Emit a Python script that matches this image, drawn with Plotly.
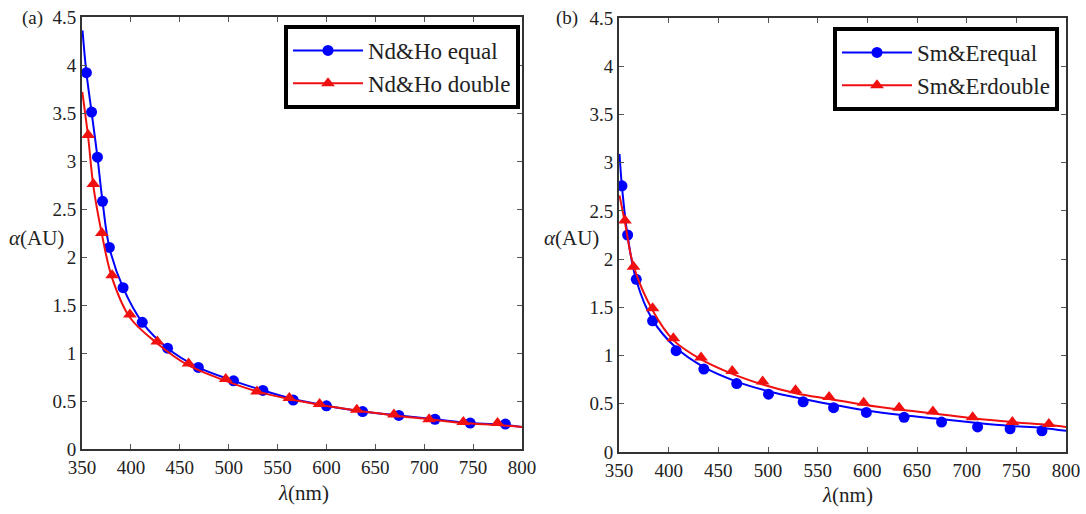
import plotly.graph_objects as go

# ---------------- data ----------------
# Panel (a)
a_eq_mx = [354.5, 359.8, 365.8, 371, 378, 392, 411.6, 437.5, 469, 505, 535, 566, 600, 637, 674, 711, 747, 783]
a_eq_my = [3.92, 3.51, 3.04, 2.58, 2.10, 1.68, 1.32, 1.05, 0.85, 0.71, 0.61, 0.51, 0.45, 0.39, 0.35, 0.31, 0.27, 0.26]
a_eq_lx = [350.5, 354.5, 359.8, 365.8, 371, 378, 392, 411.6, 437.5, 469, 505, 535, 566, 600, 637, 674, 711, 747, 783, 800]
a_eq_ly = [4.36, 3.92, 3.51, 3.04, 2.58, 2.10, 1.68, 1.32, 1.05, 0.85, 0.71, 0.61, 0.52, 0.45, 0.39, 0.35, 0.31, 0.27, 0.25, 0.23]

a_db_mx = [356.3, 361.6, 370.3, 380.8, 399, 427, 459, 497, 529, 562, 593, 631, 669, 705, 740, 775]
a_db_my = [3.27, 2.76, 2.25, 1.81, 1.40, 1.12, 0.89, 0.73, 0.60, 0.53, 0.47, 0.41, 0.36, 0.31, 0.28, 0.27]
a_db_lx = [350.3, 356.3, 361.6, 370.3, 380.8, 399, 427, 459, 497, 529, 562, 593, 631, 669, 705, 740, 775, 800]
a_db_ly = [3.72, 3.25, 2.74, 2.24, 1.78, 1.37, 1.10, 0.87, 0.71, 0.60, 0.52, 0.46, 0.40, 0.35, 0.31, 0.27, 0.25, 0.23]

# Panel (b)
b_eq_mx = [353, 358.7, 367.4, 383.8, 407.5, 435.4, 468.5, 500.5, 535.4, 566, 599, 637, 674.7, 711, 743.7, 775.8]
b_eq_my = [2.76, 2.25, 1.79, 1.36, 1.05, 0.86, 0.71, 0.60, 0.52, 0.46, 0.41, 0.36, 0.31, 0.26, 0.24, 0.22]
b_eq_lx = [350.5, 353, 358.7, 367.4, 383.8, 407.5, 435.4, 468.5, 500.5, 535.4, 566, 599, 637, 674.7, 711, 743.7, 775.8, 800]
b_eq_ly = [3.09, 2.75, 2.24, 1.78, 1.37, 1.08, 0.88, 0.73, 0.63, 0.55, 0.49, 0.43, 0.38, 0.34, 0.30, 0.27, 0.25, 0.22]

b_db_mx = [356, 364.6, 383.8, 404.7, 432.6, 464, 494.6, 527.7, 561.5, 596.3, 632, 666, 706, 746, 782.7]
b_db_my = [2.40, 1.92, 1.49, 1.18, 0.98, 0.84, 0.73, 0.64, 0.57, 0.51, 0.46, 0.42, 0.36, 0.31, 0.29]
b_db_lx = [350.5, 356, 364.6, 383.8, 404.7, 432.6, 464, 494.6, 527.7, 561.5, 596.3, 632, 666, 706, 746, 782.7, 800]
b_db_ly = [2.66, 2.38, 1.93, 1.47, 1.16, 0.96, 0.81, 0.70, 0.61, 0.55, 0.49, 0.44, 0.40, 0.35, 0.31, 0.28, 0.26]

x_ticks = [350, 400, 450, 500, 550, 600, 650, 700, 750, 800]
y_ticks = [0, 0.5, 1, 1.5, 2, 2.5, 3, 3.5, 4, 4.5]
y_tick_text = ["0", "0.5", "1", "1.5", "2", "2.5", "3", "3.5", "4", "4.5"]

names_a = ["Nd&Ho equal", "Nd&Ho double"]
names_b = ["Sm&Erequal", "Sm&Erdouble"]

BLUE = "#0000ff"
RED = "#f01010"
FONT = "Times New Roman, Liberation Serif, DejaVu Serif, serif"

fig = go.Figure()

def add_series(lx, ly, mx, my, name, color, symbol, size, xa, ya, legend):
    fig.add_trace(go.Scatter(x=lx, y=ly, mode="lines", line=dict(color=color, width=2, shape="spline"),
                             showlegend=False, xaxis=xa, yaxis=ya, hoverinfo="skip"))
    fig.add_trace(go.Scatter(x=mx, y=my, mode="markers", name=name,
                             marker=dict(color=color, symbol=symbol, size=size),
                             showlegend=False, xaxis=xa, yaxis=ya))
    # legend entry
    fig.add_trace(go.Scatter(x=[None], y=[None], mode="lines+markers", name=name,
                             line=dict(color=color, width=2),
                             marker=dict(color=color, symbol=symbol, size=size),
                             xaxis=xa, yaxis=ya, legend=legend))

add_series(a_eq_lx, a_eq_ly, a_eq_mx, a_eq_my, names_a[0], BLUE, "circle", 11, "x", "y", "legend")
add_series(a_db_lx, a_db_ly, a_db_mx, a_db_my, names_a[1], RED, "triangle-up", 12, "x", "y", "legend")
add_series(b_eq_lx, b_eq_ly, b_eq_mx, b_eq_my, names_b[0], BLUE, "circle", 11, "x2", "y2", "legend2")
add_series(b_db_lx, b_db_ly, b_db_mx, b_db_my, names_b[1], RED, "triangle-up", 12, "x2", "y2", "legend2")

W, H = 1086, 514
T, B = 17, 62
PH = H - T - B

def px(x):
    return x / W

def py(y):
    return (H - B - y) / PH

TXT = "#222222"
axis_common = dict(showline=True, linecolor="#333333", linewidth=2, mirror="ticks",
                   ticks="inside", ticklen=5, tickcolor="#555555", showgrid=False, zeroline=False,
                   automargin=False,
                   tickfont=dict(family=FONT, size=19, color=TXT))

legend_common = dict(xanchor="right", yanchor="top", bordercolor="black", borderwidth=4,
                     bgcolor="white", font=dict(family=FONT, size=23, color=TXT),
                     tracegroupgap=0, itemwidth=70)

fig.update_layout(
    width=W, height=H,
    margin=dict(l=0, r=0, t=T, b=B, autoexpand=False),
    paper_bgcolor="white", plot_bgcolor="white",
    xaxis=dict(domain=[px(82), px(522)], range=[350, 800], tickvals=x_ticks, anchor="y", **axis_common),
    yaxis=dict(domain=[py(449), py(17)], range=[0, 4.5], tickvals=y_ticks, ticktext=y_tick_text, anchor="x", **axis_common),
    xaxis2=dict(domain=[px(619), px(1066)], range=[350, 800], tickvals=x_ticks, anchor="y2", **axis_common),
    yaxis2=dict(domain=[py(452), py(18)], range=[0, 4.5], tickvals=y_ticks, ticktext=y_tick_text, anchor="x2", **axis_common),
    legend=dict(x=px(520), y=py(25), **legend_common),
    legend2=dict(x=px(1059), y=py(27), **legend_common),
    showlegend=True,
)

annots = [
    ("(a)", 32, 18, 19), ("(b)", 567, 18, 19),
    ("<i>α</i>(AU)", 36, 238, 21), ("<i>α</i>(AU)", 571, 238, 21),
    ("<i>λ</i>(nm)", 303, 493, 21), ("<i>λ</i>(nm)", 847, 495, 21),
]
for text, x, y, s in annots:
    fig.add_annotation(text=text, x=px(x), y=py(y), xref="paper", yref="paper",
                       showarrow=False, xanchor="center", yanchor="middle",
                       font=dict(family=FONT, size=s, color=TXT))

fig.write_html("out.html", config={"displayModeBar": False},
               post_script="document.body.style.margin='0px';")
